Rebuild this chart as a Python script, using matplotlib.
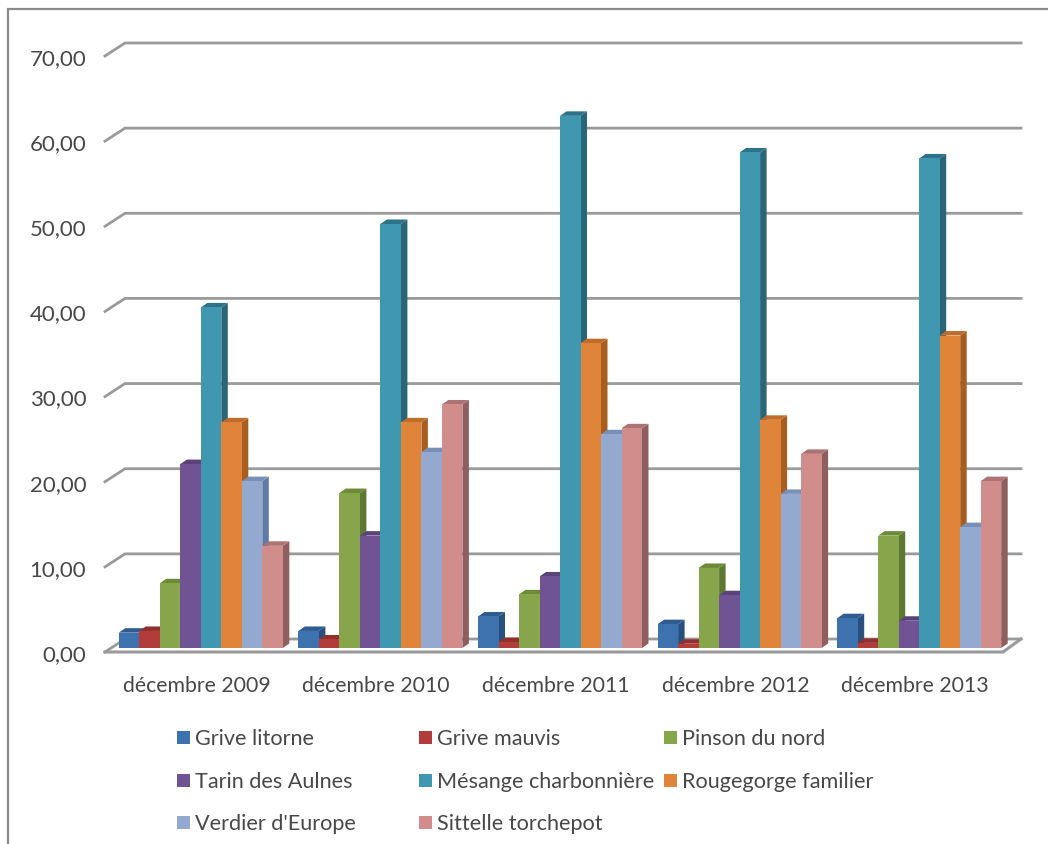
import matplotlib
matplotlib.use("Agg")
import matplotlib.pyplot as plt
import numpy as np
from matplotlib.lines import Line2D
from matplotlib.patches import Polygon, Rectangle

plt.rcParams["font.family"] = ["Lato", "DejaVu Sans"]

months = ["décembre 2009", "décembre 2010", "décembre 2011", "décembre 2012", "décembre 2013"]
species = ["Grive litorne", "Grive mauvis", "Pinson du nord", "Tarin des Aulnes",
           "Mésange charbonnière", "Rougegorge familier", "Verdier d'Europe", "Sittelle torchepot"]
grive_litorne = [1.8, 2.0, 3.7, 2.8, 3.5]
grive_mauvis = [2.0, 1.0, 0.7, 0.5, 0.6]
pinson_du_nord = [7.6, 18.2, 6.3, 9.4, 13.2]
tarin_des_aulnes = [21.6, 13.2, 8.4, 6.2, 3.2]
mesange = [40.0, 49.8, 62.5, 58.2, 57.5]
rougegorge = [26.5, 26.5, 35.8, 26.8, 36.7]
verdier = [19.6, 23.0, 25.1, 18.1, 14.2]
sittelle = [12.0, 28.6, 25.8, 22.8, 19.6]
series = [grive_litorne, grive_mauvis, pinson_du_nord, tarin_des_aulnes,
          mesange, rougegorge, verdier, sittelle]

# front, side and top colour of each series
front = ["#3e72ae", "#b13c39", "#87a64b", "#6f5393", "#3f97b0", "#e0843a", "#93a9d0", "#d08d8c"]
side = ["#28507e", "#7d2a28", "#5d7830", "#4b3768", "#2a6578", "#a85e1e", "#5f7aa6", "#8f5e5e"]
top = ["#2f5c90", "#93302e", "#6d8a37", "#5a437a", "#2c7389", "#c06d2a", "#7890b8", "#ac7372"]

W, H = 1048, 845
GRID = "#9a9a9a"
TEXT = "#484848"

fig = plt.figure(figsize=(W / 100, H / 100), dpi=100, facecolor="white")
# axes box is the front edge of the floor, y from 0 to 70
left, right, y0, y70 = 105, 1003, 653, 57
ax = fig.add_axes([left / W, 1 - y0 / H, (right - left) / W, (y0 - y70) / H])
ax.set_xlim(0, len(months))
ax.set_ylim(0, 70)
ax.patch.set_alpha(0)
for s in ax.spines.values():
    s.set_visible(False)

# pixel to data scale
sx = len(months) / (right - left)
sy = 70 / (y0 - y70)
wall_dx, wall_dy = 20 * sx, 13 * sy
floor_dx = 18 * sx
bar_dx, bar_dy = 6.5 * sx, 4.5 * sy
base_dx, base_dy = 6 * sx, 4 * sy
bar_w = 20.5 * sx

# back wall gridlines with their stubs on the left side
ticks = np.arange(0, 71, 10)
for t in ticks:
    ax.plot([0, wall_dx, len(months) + floor_dx], [t, t + wall_dy, t + wall_dy],
            color=GRID, lw=2.0, clip_on=False, zorder=1, solid_joinstyle="miter")
# floor outline
ax.plot([0, len(months), len(months) + floor_dx], [0, 0, wall_dy],
        color=GRID, lw=2.2, clip_on=False, zorder=1, solid_joinstyle="miter")

z = 2
for g in range(len(months)):
    start = g + 0.5 + base_dx - 4 * bar_w
    for k, vals in enumerate(series):
        x = start + k * bar_w
        v = vals[g]
        b = base_dy
        ax.add_patch(Polygon([(x + bar_w, b), (x + bar_w + bar_dx, b + bar_dy),
                              (x + bar_w + bar_dx, b + v + bar_dy), (x + bar_w, b + v)],
                             fc=side[k], ec="none", clip_on=False, zorder=z))
        ax.add_patch(Polygon([(x, b + v), (x + bar_dx, b + v + bar_dy),
                              (x + bar_w + bar_dx, b + v + bar_dy), (x + bar_w, b + v)],
                             fc=top[k], ec="none", clip_on=False, zorder=z))
        ax.bar(x, v, width=bar_w, bottom=b, align="edge", color=front[k], zorder=z + 0.5, clip_on=False)
        z += 1

ax.set_yticks(ticks)
ax.set_yticklabels([f"{t:.2f}".replace(".", ",") for t in ticks], fontsize=16, color=TEXT)
ax.set_xticks(np.arange(len(months)) + 0.51)
ax.set_xticklabels(months, fontsize=15.3, color=TEXT)
ax.tick_params(axis="both", length=0)
ax.tick_params(axis="y", pad=13.5)
ax.tick_params(axis="x", pad=16.5)

# legend laid out in three columns, filled row by row
col_x = [177, 419, 664]
row_y = [739, 782, 824]
for i, name in enumerate(species):
    cx, cy = col_x[i % 3], row_y[i // 3]
    fig.add_artist(Rectangle((cx / W, 1 - (cy + 6) / H), 13 / W, 13 / H,
                             transform=fig.transFigure, fc=front[i], ec="none"))
    fig.text((cx + 18) / W, 1 - cy / H, name, fontsize=15.6, color=TEXT, va="center", ha="left")

# chart frame, only its top and left edges show
fig.add_artist(Line2D([8 / W, 8 / W, 1], [0, 1 - 10 / H, 1 - 10 / H],
                      transform=fig.transFigure, color="#8a8a8a", lw=1.6, solid_joinstyle="miter"))

fig.savefig("out.png", dpi=100, facecolor="white")
